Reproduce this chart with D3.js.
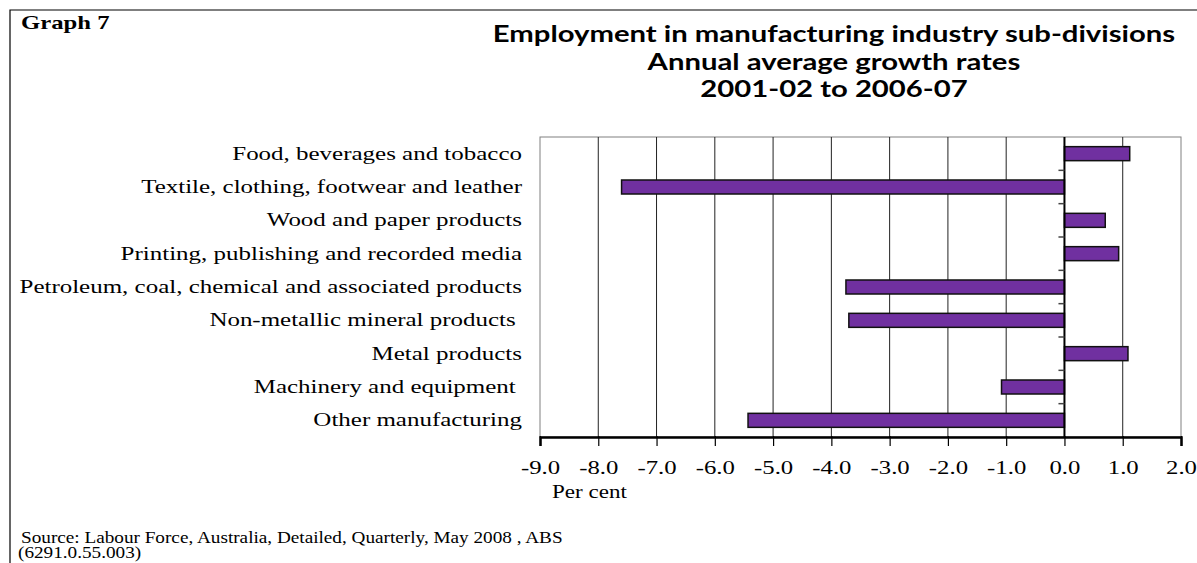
<!DOCTYPE html>
<html>
  <head>
    <meta charset="UTF-8">
    <style>
      body {
        margin: 0;
        background: #ffffff;
      }

      .title {
        font-family: Lato, "Open Sans", sans-serif;
        font-weight: bold;
        font-size: 22px;
        fill: #000;
      }

      .serif {
        font-family: "Liberation Serif", "DejaVu Serif", serif;
        fill: #000;
      }
    </style>
    <script src="https://d3js.org/d3.v7.min.js"></script>
  </head>

  <body>
    <svg id="chart"></svg>

    <script type="text/javascript">
      const categories = [
        'Food, beverages and tobacco',
        'Textile, clothing, footwear and leather',
        'Wood and paper products',
        'Printing, publishing and recorded media',
        'Petroleum, coal, chemical and associated products',
        'Non-metallic mineral products ',
        'Metal products',
        'Machinery and equipment ',
        'Other manufacturing'
      ]
      const growthRates = [1.12, -7.6, 0.7, 0.93, -3.75, -3.7, 1.09, -1.08, -5.43]
      const tickValues = [-9, -8, -7, -6, -5, -4, -3, -2, -1, 0, 1, 2]
      const titleLines = [
        'Employment in manufacturing industry sub-divisions',
        'Annual average growth rates',
        '2001-02 to 2006-07'
      ]
      const sourceLines = [
        'Source: Labour Force, Australia, Detailed, Quarterly, May 2008 , ABS',
        '(6291.0.55.003)'
      ]

      // the original text is drawn wide, so stretch each label sideways
      function stretch(selection, factor) {
        selection.each(function() {
          let w = this.getComputedTextLength()
          d3.select(this)
            .attr('textLength', w * factor)
            .attr('lengthAdjust', 'spacingAndGlyphs')
        })
      }

      function drawChart() {
        let width = 1197
        let height = 563
        let plot = {left: 540, right: 1181, top: 137, bottom: 437}

        let svg = d3.select('#chart')
          .attr('width', width)
          .attr('height', height)

        // outer frame (left and top edges)
        svg.append('path')
          .attr('d', `M10,${height} L10,10 L${width},10`)
          .attr('fill', 'none')
          .attr('stroke', '#000')
          .attr('stroke-width', 1.2)

        svg.append('text')
          .attr('class', 'serif')
          .attr('x', 21)
          .attr('y', 29)
          .attr('font-size', 19)
          .attr('font-weight', 'bold')
          .text('Graph 7')
          .call(stretch, 1.3)

        svg.selectAll('.title')
          .data(titleLines)
          .join('text')
            .attr('class', 'title')
            .attr('x', 834)
            .attr('y', (d, i) => 42 + i * 27.5)
            .attr('text-anchor', 'middle')
            .text(d => d)
            .call(stretch, 1.33)

        let x = d3.scaleLinear()
          .domain([-9, 2])
          .range([plot.left, plot.right])

        let y = d3.scaleBand()
          .domain(categories)
          .range([plot.top, plot.bottom])
          .paddingInner(0.58)
          .paddingOuter(0.29)

        let yBands = d3.scaleBand()
          .domain(categories)
          .range([plot.top, plot.bottom])

        // plot area border
        svg.append('rect')
          .attr('x', plot.left)
          .attr('y', plot.top)
          .attr('width', plot.right - plot.left)
          .attr('height', plot.bottom - plot.top)
          .attr('fill', 'none')
          .attr('stroke', '#808080')
          .attr('stroke-width', 1)

        // vertical gridlines
        svg.append('g')
          .selectAll('line')
          .data(tickValues.filter(d => d > -9 && d < 2 && d !== 0))
          .join('line')
            .attr('x1', d => x(d))
            .attr('x2', d => x(d))
            .attr('y1', plot.top)
            .attr('y2', plot.bottom)
            .attr('stroke', '#222')
            .attr('stroke-width', 1)

        // bars
        svg.append('g')
          .selectAll('rect')
          .data(growthRates)
          .join('rect')
            .attr('x', d => x(Math.min(0, d)))
            .attr('y', (d, i) => y(categories[i]))
            .attr('width', d => Math.abs(x(d) - x(0)))
            .attr('height', y.bandwidth())
            .attr('fill', '#7030a0')
            .attr('stroke', '#111')
            .attr('stroke-width', 1.5)

        // category axis on zero line
        let zeroAxis = svg.append('g')
        zeroAxis.append('line')
          .attr('x1', x(0))
          .attr('x2', x(0))
          .attr('y1', plot.top)
          .attr('y2', plot.bottom)
          .attr('stroke', '#000')
          .attr('stroke-width', 2)

        zeroAxis.selectAll('.cat-tick')
          .data(categories.slice(1))
          .join('line')
            .attr('class', 'cat-tick')
            .attr('x1', x(0) - 6)
            .attr('x2', x(0))
            .attr('y1', d => yBands(d))
            .attr('y2', d => yBands(d))
            .attr('stroke', '#444')
            .attr('stroke-width', 1.5)

        // category labels
        svg.append('g')
          .selectAll('text')
          .data(categories)
          .join('text')
            .attr('class', 'serif')
            .attr('x', 522)
            .attr('y', d => yBands(d) + yBands.bandwidth() / 2 + 6)
            .attr('text-anchor', 'end')
            .attr('font-size', 19.5)
            .style('white-space', 'pre')
            .text(d => d)
            .call(stretch, 1.28)

        // bottom axis
        let xAxis = svg.append('g')
          .attr('transform', `translate(0, ${plot.bottom})`)
          .call(d3.axisBottom(x)
            .tickValues(tickValues)
            .tickSize(9)
            .tickPadding(14)
            .tickFormat(d => d.toFixed(1)))

        xAxis.select('.domain')
          .attr('stroke', '#000')
          .attr('stroke-width', 2.5)
        xAxis.selectAll('.tick line')
          .attr('stroke', '#000')
          .attr('stroke-width', 1.2)
          .attr('y1', -1)
        xAxis.selectAll('.tick text')
          .attr('class', 'serif')
          .attr('font-size', 19.5)
          .attr('fill', '#000')
          .call(stretch, 1.27)

        svg.append('text')
          .attr('class', 'serif')
          .attr('x', 552)
          .attr('y', 498)
          .attr('font-size', 18)
          .text('Per cent')
          .call(stretch, 1.28)

        svg.selectAll('.source')
          .data(sourceLines)
          .join('text')
            .attr('class', 'serif source')
            .attr('x', (d, i) => i === 0 ? 21 : 18)
            .attr('y', (d, i) => 543 + i * 15)
            .attr('font-size', 16)
            .text(d => d)
            .call(stretch, 1.2)
      }

      drawChart()
    </script>
  </body>
</html>
